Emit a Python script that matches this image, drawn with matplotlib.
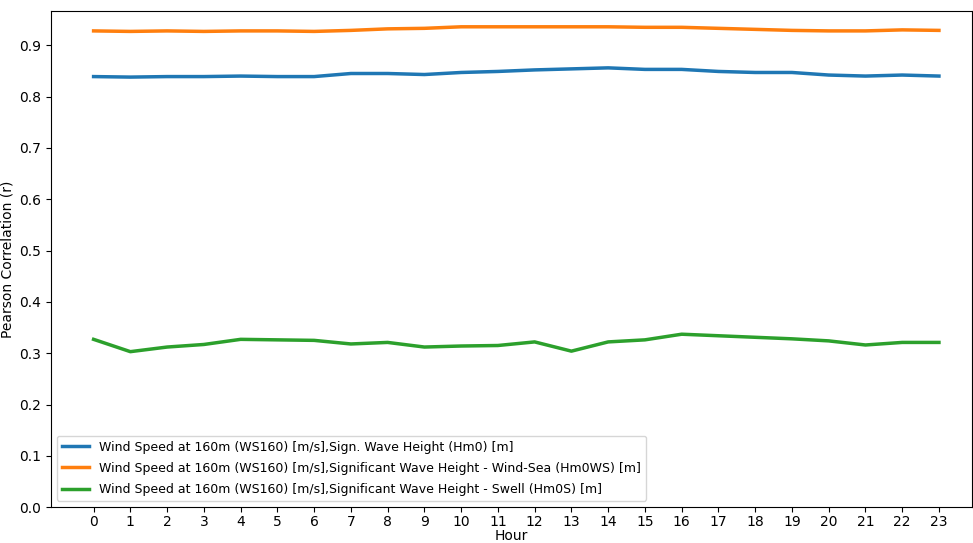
import numpy as np
import matplotlib.pyplot as plt

# Hourly Pearson correlation values
hours = list(range(24))
hm0 = [0.839, 0.838, 0.839, 0.839, 0.840, 0.839, 0.839, 0.845, 0.845, 0.843, 0.847, 0.849,
       0.852, 0.854, 0.856, 0.853, 0.853, 0.849, 0.847, 0.847, 0.842, 0.840, 0.842, 0.840]
hm0ws = [0.928, 0.927, 0.928, 0.927, 0.928, 0.928, 0.927, 0.929, 0.932, 0.933, 0.936, 0.936,
         0.936, 0.936, 0.936, 0.935, 0.935, 0.933, 0.931, 0.929, 0.928, 0.928, 0.930, 0.929]
hm0s = [0.327, 0.303, 0.312, 0.317, 0.327, 0.326, 0.325, 0.318, 0.321, 0.312, 0.314, 0.315,
        0.322, 0.304, 0.322, 0.326, 0.337, 0.334, 0.331, 0.328, 0.324, 0.316, 0.321, 0.321]
labels = [
    "Wind Speed at 160m (WS160) [m/s],Sign. Wave Height (Hm0) [m]",
    "Wind Speed at 160m (WS160) [m/s],Significant Wave Height - Wind-Sea (Hm0WS) [m]",
    "Wind Speed at 160m (WS160) [m/s],Significant Wave Height - Swell (Hm0S) [m]",
]

fig = plt.figure(figsize=(9.73, 5.43), dpi=100)
ax = fig.add_axes([0.052, 0.066, 0.947, 0.913])

for series, lab in zip([hm0, hm0ws, hm0s], labels):
    ax.plot(hours, series, linewidth=2.5, label=lab)

ax.set_xticks(hours)
ax.set_xlim(-1.17, 23.9)
ax.set_ylim(0, 0.966)
ax.set_yticks(np.arange(0, 1.0, 0.1))
ax.tick_params(labelsize=10)
ax.tick_params(axis='x', pad=2)
ax.set_xlabel("Hour", fontsize=10, labelpad=0)
ax.set_ylabel("Pearson Correlation (r)", fontsize=10, labelpad=3)
ax.legend(loc="lower left", fontsize=9, labelspacing=0.65, handlelength=2.2)

fig.savefig("out.png", dpi=100)
